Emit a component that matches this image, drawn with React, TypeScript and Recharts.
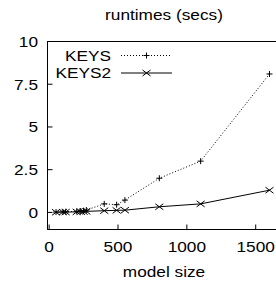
import React from 'react';
import { LineChart, Line, XAxis, YAxis, Legend, Label, ReferenceArea } from 'recharts';

const modelSize = [50, 100, 120, 200, 230, 250, 270, 400, 490, 550, 800, 1100, 1600];
const keysRuntime = [0.02, 0.03, 0.04, 0.06, 0.08, 0.1, 0.14, 0.5, 0.45, 0.72, 2.0, 3.0, 8.1];
const keys2Runtime = [0.01, 0.02, 0.02, 0.03, 0.04, 0.05, 0.06, 0.1, 0.12, 0.13, 0.33, 0.5, 1.3];
const xTicks = [0, 500, 1000, 1500];
const yTicks = [0, 2.5, 5, 7.5, 10];
const xDomain = [-12, 1680];
const yDomain = [-1, 10];
const seriesNames = ['KEYS', 'KEYS2'];
const chartTitle = 'runtimes (secs)';
const xAxisTitle = 'model size';

const data = modelSize.map((m, i) => ({
  size: m,
  [seriesNames[0]]: keysRuntime[i],
  [seriesNames[1]]: keys2Runtime[i],
}));

const FONT = '"Liberation Sans", Arial, Helvetica, sans-serif';
const FS = 15;
const SX = 1.15;

function SText(props: any) {
  const { x, y, anchor, dy, children, sx } = props;
  const s = sx ?? SX;
  return (
    <text
      x={x}
      y={y}
      dy={dy}
      textAnchor={anchor}
      fontFamily={FONT}
      fontSize={FS}
      fill="#000"
      transform={`translate(${x} 0) scale(${s} 1) translate(${-x} 0)`}
    >
      {children}
    </text>
  );
}

const YTick = (p: any) => (
  <SText x={p.x} y={p.y} anchor="end" dy="0.355em">{String(p.payload.value)}</SText>
);
const XTick = (p: any) => (
  <SText x={p.x} y={p.y} anchor="middle" dy="0.71em">{String(p.payload.value)}</SText>
);

const Plus = ({ cx, cy }: any) => (
  <g stroke="#000" strokeWidth={1}>
    <line x1={cx - 3} x2={cx + 3} y1={cy} y2={cy} />
    <line x1={cx} x2={cx} y1={cy - 3} y2={cy + 3} />
  </g>
);
const Cross = ({ cx, cy }: any) => (
  <g stroke="#000" strokeWidth={1}>
    <line x1={cx - 4} x2={cx + 4} y1={cy - 3} y2={cy + 3} />
    <line x1={cx - 4} x2={cx + 4} y1={cy + 3} y2={cy - 3} />
  </g>
);

const seriesStyle: Record<string, { dash?: string; Marker: any }> = {
  KEYS: { dash: '1 2', Marker: Plus },
  KEYS2: { dash: undefined, Marker: Cross },
};

const LegendContent = (props: any) => {
  const seen: Record<string, boolean> = {};
  const payload = (props.payload || []).filter((e: any) => {
    if (!seriesStyle[e.value] || e.type === 'none' || seen[e.value]) return false;
    seen[e.value] = true;
    return true;
  });
  return (
    <svg width={200} height={90} style={{ position: 'absolute', left: 0, top: 0, overflow: 'visible' }}>
      {payload.map((entry: any, i: number) => {
        const st = seriesStyle[entry.value];
        const y = 55.5 + i * 17.5;
        const M = st.Marker;
        return (
          <g key={entry.value}>
            <SText x={111} y={y} anchor="end" dy="0.355em">{entry.value}</SText>
            <line x1={121} x2={172} y1={y} y2={y} stroke="#000" strokeWidth={1} strokeDasharray={st.dash} />
            <M cx={146.5} cy={y} />
          </g>
        );
      })}
    </svg>
  );
};

export default function App() {
  return (
    <div style={{ width: 276, height: 285, overflow: 'hidden', position: 'relative' }}>
      <style>{`body{margin:0;overflow:hidden;background:#fff}`}</style>
      <LineChart
        width={290}
        height={285}
        data={data}
        margin={{ top: 40.5, right: 8.5, bottom: 0, left: 0 }}
      >
        <XAxis
          dataKey="size"
          type="number"
          domain={xDomain}
          ticks={xTicks}
          allowDataOverflow
          height={55.5}
          tickSize={-5}
          tickMargin={17}
          tick={<XTick />}
          axisLine={{ stroke: '#000' }}
          tickLine={{ stroke: '#000' }}
        >
          <Label
            content={(p: any) => {
              const vb = p.viewBox;
              return <SText x={vb.x + vb.width / 2} y={vb.y + 47.5} anchor="middle">{xAxisTitle}</SText>;
            }}
          />
        </XAxis>
        <XAxis
          xAxisId="top"
          orientation="top"
          dataKey="size"
          type="number"
          domain={xDomain}
          ticks={xTicks}
          allowDataOverflow
          height={1}
          tickSize={-5}
          tick={false}
          stroke="#000"
          axisLine={{ stroke: '#000' }}
          tickLine={{ stroke: '#000' }}
        >
          <Label
            content={(p: any) => {
              const vb = p.viewBox;
              return <SText x={vb.x + vb.width / 2} y={vb.y + vb.height - 21.5} anchor="middle">{chartTitle}</SText>;
            }}
          />
        </XAxis>
        <YAxis
          type="number"
          domain={yDomain}
          ticks={yTicks}
          allowDataOverflow
          width={47.5}
          tickSize={-5}
          tickMargin={14.5}
          tick={<YTick />}
          axisLine={{ stroke: '#000' }}
          tickLine={{ stroke: '#000' }}
        />
        <YAxis
          yAxisId="right"
          orientation="right"
          type="number"
          domain={yDomain}
          ticks={yTicks}
          allowDataOverflow
          width={1}
          tickSize={-5}
          tick={false}
          stroke="#000"
          axisLine={{ stroke: '#000' }}
          tickLine={{ stroke: '#000' }}
        />
        <ReferenceArea
          x1={xDomain[0]}
          x2={xDomain[1]}
          y1={yDomain[0]}
          y2={yDomain[1]}
          fill="none"
          stroke="#000"
          strokeWidth={1}
          ifOverflow="visible"
        />
        <Legend
          layout="horizontal"
          verticalAlign="middle"
          align="center"
          wrapperStyle={{ position: 'absolute', left: 0, top: 0, width: 200, height: 90 }}
          content={<LegendContent />}
        />
        <Line
          dataKey={seriesNames[0]}
          stroke="#000"
          strokeWidth={1}
          strokeDasharray="1 2"
          isAnimationActive={false}
          dot={(p: any) => <Plus key={`k1-${p.index}`} cx={p.cx} cy={p.cy} />}
        />
        <Line
          dataKey={seriesNames[1]}
          stroke="#000"
          strokeWidth={1}
          isAnimationActive={false}
          dot={(p: any) => <Cross key={`k2-${p.index}`} cx={p.cx} cy={p.cy} />}
        />
        <Line
          xAxisId="top"
          yAxisId="right"
          dataKey={seriesNames[1]}
          stroke="none"
          dot={false}
          activeDot={false}
          legendType="none"
          isAnimationActive={false}
        />
      </LineChart>
    </div>
  );
}
